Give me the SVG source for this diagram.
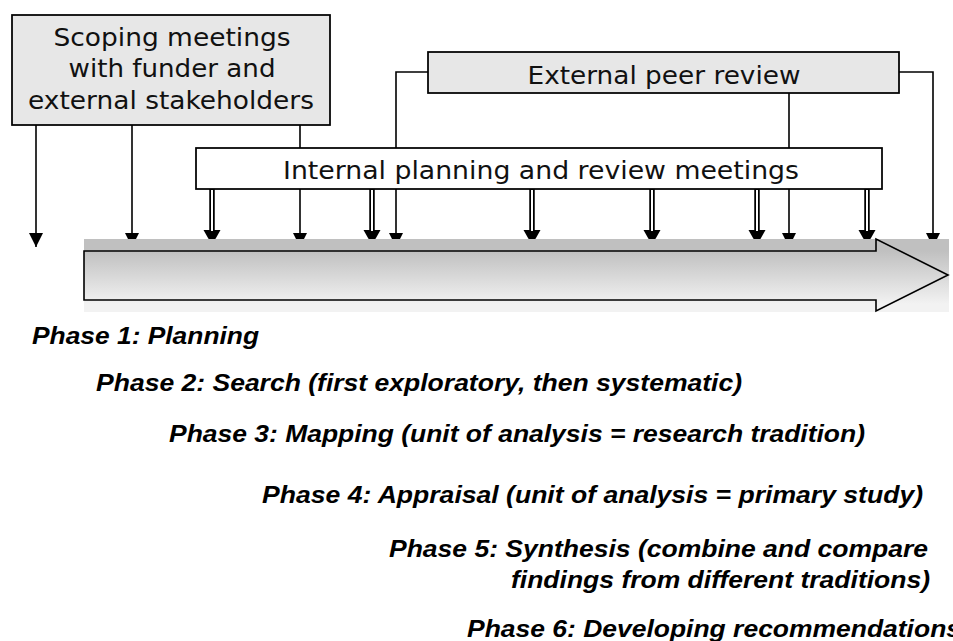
<svg xmlns="http://www.w3.org/2000/svg" xmlns:xlink="http://www.w3.org/1999/xlink" width="953" height="641" viewBox="0 0 953 641">
<style>
  .box { stroke: #000; stroke-width: 1.75; }
  .grey { fill: #e7e7e7; }
  .white { fill: #fff; }
  .lbl { font-family: "DejaVu Sans", Verdana, sans-serif; font-size: 24px; fill: #111; text-anchor: middle; }
  .phase { font-family: "Liberation Sans", Arial, sans-serif; font-size: 23px; font-weight: bold; font-style: italic; fill: #000; }
  .c1 { stroke: #000; stroke-width: 1.6; fill: none; }
  .c2 { stroke: #000; stroke-width: 5.5; fill: none; }
  .c2w { stroke: #fff; stroke-width: 2; fill: none; }
</style>
<defs>
  <linearGradient id="g" gradientUnits="userSpaceOnUse" x1="0" y1="251" x2="0" y2="304">
    <stop offset="0" stop-color="#c0c0c0"/>
    <stop offset="1" stop-color="#f2f2f2"/>
  </linearGradient>
  <marker id="a1" markerUnits="userSpaceOnUse" markerWidth="16" markerHeight="16" refX="14" refY="7" orient="auto" viewBox="0 0 16 14">
    <path d="M0,0 L14,7 L0,14 Z" fill="#000"/>
  </marker>
  <marker id="a2" markerUnits="userSpaceOnUse" markerWidth="17" markerHeight="18" refX="15" refY="8.5" orient="auto" viewBox="0 0 17 17">
    <path d="M0,0 L15,8.5 L0,17 Z" fill="#000"/>
  </marker>
</defs>

<g id="connectors">
  <!-- from scoping meetings -->
  <path class="c1" d="M36,125 V247" marker-end="url(#a1)"/>
  <path class="c1" d="M132,125 V247" marker-end="url(#a1)"/>
  <path class="c1" d="M300,125 V247" marker-end="url(#a1)"/>
  <!-- from external peer review -->
  <path class="c1" d="M428,72 H396 V247" marker-end="url(#a1)"/>
  <path class="c1" d="M789,93 V247" marker-end="url(#a1)"/>
  <path class="c1" d="M899,72 H933 V247" marker-end="url(#a1)"/>
  <!-- double arrows from internal planning -->
  <path class="c2" d="M212,189 V245" marker-end="url(#a2)"/>
  <path class="c2" d="M372,189 V245" marker-end="url(#a2)"/>
  <path class="c2" d="M532,189 V245" marker-end="url(#a2)"/>
  <path class="c2" d="M652,189 V245" marker-end="url(#a2)"/>
  <path class="c2" d="M757,189 V245" marker-end="url(#a2)"/>
  <path class="c2" d="M867,189 V245" marker-end="url(#a2)"/>
  <path class="c2w" d="M212,190 V231 M372,190 V231 M532,190 V231 M652,190 V231 M757,190 V231 M867,190 V231"/>
</g>

<g id="timeline">
  <rect x="84" y="239" width="865" height="73" fill="url(#g)"/>
  <path d="M84,251 H876 V239 L948,275 L876,311 V300 H84 Z" fill="url(#g)" stroke="#000" stroke-width="1.6" stroke-linejoin="miter"/>
</g>

<g id="scoping">
  <rect class="box grey" x="12" y="15" width="318" height="110"/>
  <text class="lbl" x="172" y="46" textLength="237" lengthAdjust="spacingAndGlyphs">Scoping meetings</text>
  <text class="lbl" x="172" y="77" textLength="207" lengthAdjust="spacingAndGlyphs">with funder and</text>
  <text class="lbl" x="171" y="109" textLength="286" lengthAdjust="spacingAndGlyphs">external stakeholders</text>
</g>

<g id="external">
  <rect class="box grey" x="428" y="52" width="471" height="41"/>
  <text class="lbl" x="664" y="84" textLength="273" lengthAdjust="spacingAndGlyphs">External peer review</text>
</g>

<g id="internal">
  <rect class="box white" x="196" y="148" width="686" height="41"/>
  <text class="lbl" x="541" y="179" textLength="516" lengthAdjust="spacingAndGlyphs">Internal planning and review meetings</text>
</g>

<g id="phases">
  <text class="phase" x="32" y="344" textLength="227" lengthAdjust="spacingAndGlyphs">Phase 1: Planning</text>
  <text class="phase" x="96" y="391" textLength="646" lengthAdjust="spacingAndGlyphs">Phase 2: Search (first exploratory, then systematic)</text>
  <text class="phase" x="169" y="442" textLength="696" lengthAdjust="spacingAndGlyphs">Phase 3: Mapping (unit of analysis = research tradition)</text>
  <text class="phase" x="262" y="503" textLength="661" lengthAdjust="spacingAndGlyphs">Phase 4: Appraisal (unit of analysis = primary study)</text>
  <text class="phase" x="389" y="557" textLength="539" lengthAdjust="spacingAndGlyphs">Phase 5: Synthesis (combine and compare</text>
  <text class="phase" x="511" y="588" textLength="419" lengthAdjust="spacingAndGlyphs">findings from different traditions)</text>
  <text class="phase" x="467" y="637" textLength="494" lengthAdjust="spacingAndGlyphs">Phase 6: Developing recommendations</text>
</g>
</svg>
